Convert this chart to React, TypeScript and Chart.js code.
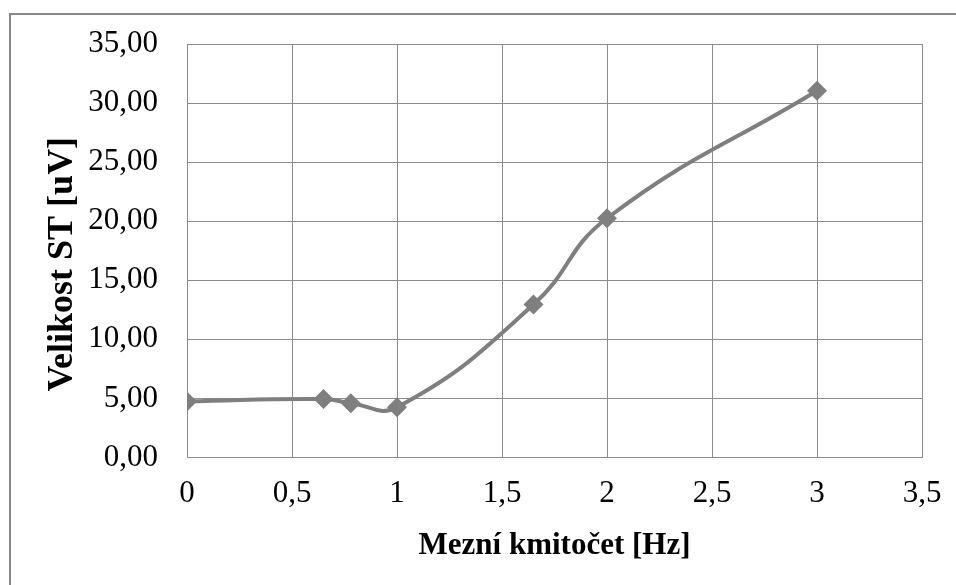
import React, { useEffect, useRef } from "react";
import { Chart, registerables } from "chart.js";

Chart.register(...registerables);

const xValues = [0, 0.65, 0.78, 1, 1.65, 2, 3];
const yValues = [4.75, 4.95, 4.6, 4.25, 12.95, 20.25, 31.05];
const xTitle = "Mezní kmitočet [Hz]";
const yTitle = "Velikost ST [uV]";

const gray = "#7f7f7f";
const gridColor = "#8c8c8c";
const serif = "'Liberation Serif', 'Times New Roman', serif";

const fmtX = (v: number) => String(v).replace(".", ",");
const fmtY = (v: number) => v.toFixed(2).replace(".", ",");

export default function App() {
  const ref = useRef<HTMLCanvasElement | null>(null);
  useEffect(() => {
    if (!ref.current) return;
    const chart = new Chart(ref.current, {
      type: "scatter",
      data: {
        datasets: [
          {
            data: xValues.map((x, i) => ({ x, y: yValues[i] })),
            showLine: true,
            borderColor: gray,
            backgroundColor: gray,
            borderWidth: 4,
            tension: 0.45,
            pointStyle: "rectRot",
            pointRadius: 10,
            pointBorderWidth: 0,
            pointBackgroundColor: gray,
          },
        ],
      },
      options: {
        animation: false,
        responsive: false,
        layout: { padding: { left: 35, right: 34, top: 44, bottom: 0 } },
        plugins: { legend: { display: false }, tooltip: { enabled: false } },
        scales: {
          x: {
            type: "linear",
            min: 0,
            max: 3.5,
            border: { color: gridColor, width: 1 },
            grid: {
              color: gridColor,
              lineWidth: 1,
              drawTicks: true,
              tickLength: 18,
              tickColor: "rgba(0,0,0,0)",
            },
            ticks: {
              stepSize: 0.5,
              padding: 0,
              color: "#000",
              font: { family: serif, size: 31 },
              callback: (v: any) => fmtX(Number(v)),
            },
            title: {
              display: true,
              text: xTitle,
              color: "#000",
              font: { family: serif, size: 31, weight: "bold" },
              padding: { top: 20, bottom: 20 },
            },
            afterFit: (s: any) => {
              s.height = 585 - 457.5;
            },
          },
          y: {
            type: "linear",
            min: 0,
            max: 35,
            border: { color: gridColor, width: 1 },
            grid: {
              color: gridColor,
              lineWidth: 1,
              drawTicks: true,
              tickLength: 29,
              tickColor: "rgba(0,0,0,0)",
            },
            ticks: {
              stepSize: 5,
              padding: 0,
              color: "#000",
              font: { family: serif, size: 31 },
              callback: (v: any) => fmtY(Number(v)),
            },
            title: {
              display: true,
              text: yTitle + "   ",
              color: "#000",
              font: { family: serif, size: 36, weight: "bold" },
              padding: { top: 6, bottom: 6 },
            },
            afterFit: (s: any) => {
              s.width = 187 - 35;
            },
          },
        },
      },
    });
    return () => chart.destroy();
  }, []);

  return (
    <div
      style={{
        position: "fixed",
        left: 0,
        top: 0,
        width: 956,
        height: 585,
        overflow: "hidden",
        background: "#fff",
      }}
    >
      <div
        style={{
          position: "absolute",
          left: 9,
          top: 13,
          width: 980,
          height: 620,
          border: "2px solid #888",
        }}
      />
      <canvas
        ref={ref}
        width={956}
        height={585}
        style={{ position: "absolute", left: 0, top: 0 }}
      />
    </div>
  );
}
